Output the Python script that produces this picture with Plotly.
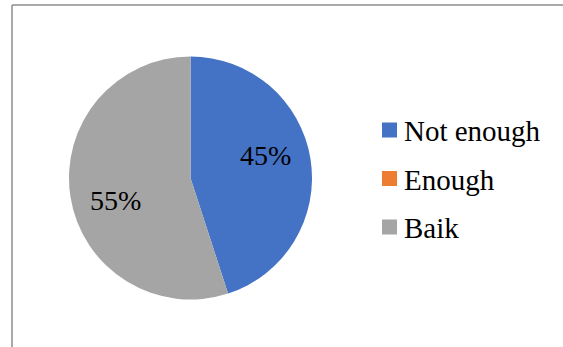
import math
import plotly.graph_objects as go

labels = ["Not enough", "Enough", "Baik"]
values = [45, 0, 55]
colors = ["#4472C4", "#ED7D31", "#A5A5A5"]

FONT = "Liberation Serif, Times New Roman, Tinos, serif"
W, H = 563, 347
cx, cy, R = 190.5, 178.0, 121.5

fig = go.Figure(go.Pie(
    labels=labels,
    values=values,
    marker=dict(colors=colors, line=dict(width=0)),
    sort=False,
    direction="clockwise",
    rotation=0,
    textinfo="none",
    showlegend=False,
    domain=dict(x=[(cx - R) / W, (cx + R) / W], y=[1 - (cy + R) / H, 1 - (cy - R) / H]),
    hoverinfo="label+percent",
))

# data labels placed from slice angles
total = sum(values)
annotations = []
start = 0.0
for v in values:
    frac = v / total
    if v > 0:
        mid = (start + frac / 2) * 360 - 8
        r = 0.645 * R
        x = cx + r * math.sin(math.radians(mid))
        y = cy - r * math.cos(math.radians(mid))
        annotations.append(dict(
            x=x / W, y=1 - y / H, xref="paper", yref="paper",
            text=f"{frac * 100:.0f}%", showarrow=False,
            xanchor="center", yanchor="middle",
            font=dict(family=FONT, size=28, color="black"),
        ))
    start += frac

# legend (square swatch + label per category)
shapes = [
    dict(type="line", xref="paper", yref="paper", x0=12 / W, x1=1, y0=1 - 5 / H, y1=1 - 5 / H,
         line=dict(color="#8c8c8c", width=1.5)),
    dict(type="line", xref="paper", yref="paper", x0=12 / W, x1=12 / W, y0=0, y1=1 - 5 / H,
         line=dict(color="#8c8c8c", width=1.5)),
]
leg_x, leg_y0, leg_dy, sw = 382, 130, 48.5, 15
for i, (lab, col) in enumerate(zip(labels, colors)):
    yc = leg_y0 + i * leg_dy
    shapes.append(dict(type="rect", xref="paper", yref="paper",
                       x0=leg_x / W, x1=(leg_x + sw) / W,
                       y0=1 - (yc + sw / 2) / H, y1=1 - (yc - sw / 2) / H,
                       fillcolor=col, line=dict(width=0)))
    annotations.append(dict(
        x=(leg_x + sw + 5) / W, y=1 - (yc + 1) / H, xref="paper", yref="paper",
        text=lab, showarrow=False, xanchor="left", yanchor="middle",
        font=dict(family=FONT, size=29, color="black"),
    ))

fig.update_layout(
    width=W, height=H,
    margin=dict(l=0, r=0, t=0, b=0),
    paper_bgcolor="white",
    plot_bgcolor="white",
    font=dict(family=FONT, color="black"),
    annotations=annotations,
    shapes=shapes,
    showlegend=False,
)

fig.write_html("out.html", config={"displayModeBar": False},
               post_script="document.body.style.margin='0';")
